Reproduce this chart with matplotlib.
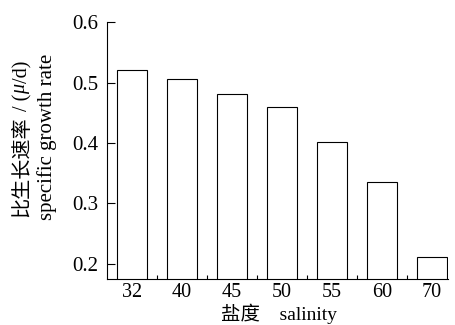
import matplotlib.pyplot as plt
import numpy as np

# salinity levels and specific growth rate (per day)
salinity = ["32", "40", "45", "50", "55", "60", "70"]
growth_rate = [0.521, 0.506, 0.481, 0.460, 0.402, 0.336, 0.212]

# serif first, CJK glyphs fall back to Noto
serif = ["Liberation Serif", "Noto Sans CJK SC"]
plt.rcParams["font.family"] = serif
plt.rcParams["mathtext.fontset"] = "custom"
plt.rcParams["mathtext.it"] = "Liberation Serif:italic"
plt.rcParams["mathtext.rm"] = "Liberation Serif"

fig = plt.figure(figsize=(4.55, 3.25), dpi=100)
ax = fig.add_axes([0.235, 0.1415, 0.75, 0.7905])

x = np.arange(len(salinity))
ax.bar(x, growth_rate, width=0.6, color="white", edgecolor="black", linewidth=0.8)

ax.set_xlim(-0.5, 6.32)
ax.set_ylim(0.175, 0.6)
ax.set_yticks([0.2, 0.3, 0.4, 0.5, 0.6])
ax.set_yticklabels(["0.2", "0.3", "0.4", "0.5", "0.6"])
ax.set_xticks(x)
ax.set_xticklabels(salinity)
# small separators between categories
ax.set_xticks(x[:-1] + 0.5, minor=True)

ax.tick_params(axis="y", direction="in", length=6, width=0.8, pad=6, labelsize=15)
ax.tick_params(axis="x", which="major", length=0, pad=3, labelsize=14.5)
ax.tick_params(axis="x", which="minor", direction="in", length=3, width=0.8)

for side in ("top", "right"):
    ax.spines[side].set_visible(False)
for side in ("left", "bottom"):
    ax.spines[side].set_linewidth(0.8)

# first y-label line: Chinese text, then the unit with italic mu, stacked upwards
fig.canvas.draw()
renderer = fig.canvas.get_renderer()
y_pos = 0.332
for piece in ["比生长速率", " / (", r"$\mu$", "/d)"]:
    t = fig.text(0.05, y_pos, piece, rotation=90, ha="center", va="bottom", fontsize=14.5)
    bb = t.get_window_extent(renderer)
    y_pos += bb.height / fig.bbox.height

fig.text(0.103, 0.58, "specific growth rate", rotation=90, ha="center", va="center",
         fontsize=15)
fig.text(0.613, 0.003, "盐度    salinity", ha="center", va="bottom", fontsize=14)

fig.savefig("out.png", dpi=100)
